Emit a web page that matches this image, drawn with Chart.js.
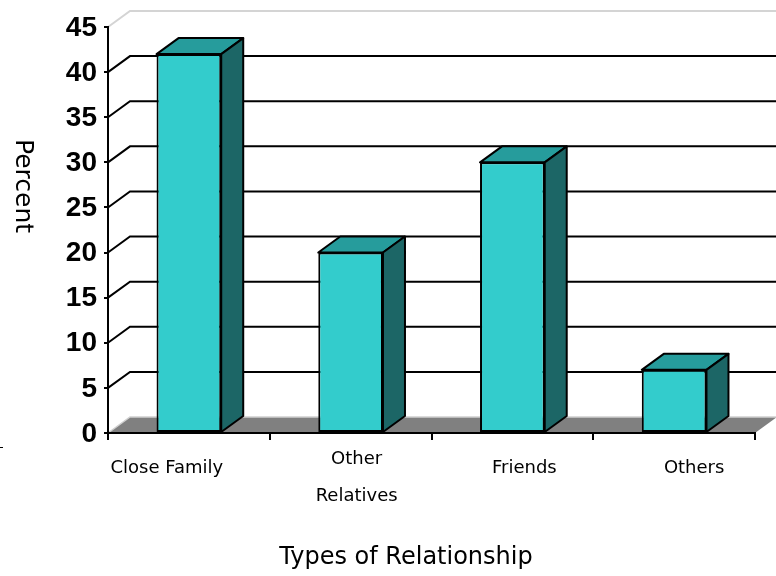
<!DOCTYPE html>
<html>
<head>
<meta charset="utf-8">
<style>
body { margin: 0; background: #fff; }
canvas { display: block; }
</style>
<script src="https://cdn.jsdelivr.net/npm/chart.js@4"></script>
</head>
<body>
<canvas id="bars" width="776" height="576"></canvas>
<script>
const categories = ['Close Family', ['Other', 'Relatives'], 'Friends', 'Others'];
const percent = [42, 20, 30, 7];
const percentTicks = [0, 5, 10, 15, 20, 25, 30, 35, 40, 45];

const labelFont = '18px "DejaVu Sans"';
const depthX = 22, depthY = 16;
// the original labels sit off-centre, one shift per category
const labelShiftX = [-22, 6, 12, 20];
const labelY = [468, 459, 468, 468];
const labelLineGap = 37;

function poly(ctx, pts, fill, stroke, width) {
    ctx.beginPath();
    pts.forEach((p, i) => i ? ctx.lineTo(p[0], p[1]) : ctx.moveTo(p[0], p[1]));
    ctx.closePath();
    if (fill) { ctx.fillStyle = fill; ctx.fill(); }
    if (stroke) { ctx.strokeStyle = stroke; ctx.lineWidth = width; ctx.lineJoin = 'round'; ctx.stroke(); }
}

const wallAndFloor = {
    id: 'wallAndFloor',
    beforeDraw(chart) {
        const { ctx, chartArea: a, scales: { y } } = chart;
        ctx.save();
        const base = y.getPixelForValue(0);
        poly(ctx, [[a.left, base], [a.right, base], [a.right + depthX, base - depthY], [a.left + depthX, base - depthY]], '#808080');
        // lighter rim on the floor
        ctx.strokeStyle = '#d0d0d0';
        ctx.lineWidth = 1.5;
        ctx.beginPath();
        ctx.moveTo(a.left, base);
        ctx.lineTo(a.left + depthX, base - depthY);
        ctx.lineTo(a.right + depthX, base - depthY);
        ctx.stroke();
        percentTicks.forEach(t => {
            if (t === 0) return;
            const py = y.getPixelForValue(t);
            ctx.strokeStyle = t === 45 ? '#d4d4d4' : '#000';
            ctx.lineWidth = 2;
            ctx.beginPath();
            ctx.moveTo(a.left, py);
            ctx.lineTo(a.left + depthX, py - depthY);
            ctx.lineTo(a.right + depthX, py - depthY);
            ctx.stroke();
        });
        ctx.restore();
    }
};

const barSides = {
    id: 'barSides',
    afterDatasetsDraw(chart) {
        const { ctx } = chart;
        ctx.save();
        chart.getDatasetMeta(0).data.forEach(bar => {
            const l = bar.x - bar.width / 2, r = bar.x + bar.width / 2;
            const t = bar.y, b = bar.base;
            poly(ctx, [[l, t], [r, t], [r + depthX, t - depthY], [l + depthX, t - depthY]], '#269c9c', '#000', 2);
            poly(ctx, [[r, t], [r + depthX, t - depthY], [r + depthX, b - depthY], [r, b]], '#1c6666', '#000', 2);
        });
        ctx.restore();
    }
};

const axisText = {
    id: 'axisText',
    afterDraw(chart) {
        const { ctx, scales: { x } } = chart;
        ctx.save();
        ctx.fillStyle = '#000';
        ctx.textAlign = 'center';
        ctx.textBaseline = 'middle';
        ctx.font = labelFont;
        categories.forEach((c, i) => {
            const lines = Array.isArray(c) ? c : [c];
            lines.forEach((line, n) => {
                ctx.fillText(line, x.getPixelForValue(i) + labelShiftX[i], labelY[i] + n * labelLineGap);
            });
        });
        ctx.font = '24px "DejaVu Sans"';
        ctx.fillText('Types of Relationship', 406, 558);
        ctx.font = '25px "DejaVu Sans"';
        ctx.translate(22, 186);
        ctx.rotate(Math.PI / 2);
        ctx.fillText('Percent', 0, 0);
        ctx.restore();
        // stray dash at the left edge of the original
        ctx.fillStyle = '#000';
        ctx.fillRect(0, 447, 3, 1);
    }
};

new Chart(document.getElementById('bars').getContext('2d'), {
    type: 'bar',
    data: {
        labels: categories,
        datasets: [{
            data: percent,
            backgroundColor: '#33cccc',
            borderColor: '#000',
            borderWidth: 2,
            borderSkipped: false,
            barPercentage: 0.4,
            categoryPercentage: 1
        }]
    },
    options: {
        responsive: false,
        animation: false,
        devicePixelRatio: 1,
        layout: { padding: { top: 27, right: 21, left: 0, bottom: 0 } },
        plugins: { legend: { display: false }, tooltip: { enabled: false } },
        scales: {
            x: {
                afterFit(scale) { scale.height = 143; },
                grid: { drawOnChartArea: false, color: '#000', lineWidth: 2, tickLength: 7 },
                border: { color: '#000', width: 2 },
                ticks: { display: false }
            },
            y: {
                min: 0,
                max: 45,
                afterBuildTicks(scale) { scale.ticks = percentTicks.map(value => ({ value })); },
                afterFit(scale) { scale.width = 108; },
                grid: { drawOnChartArea: false, color: '#000', lineWidth: 2, tickLength: 4 },
                border: { color: '#000', width: 2 },
                ticks: {
                    color: '#000',
                    padding: 7,
                    labelOffset: 1,
                    font: { family: '"Liberation Sans"', size: 28, weight: 'bold' }
                }
            }
        }
    },
    plugins: [wallAndFloor, barSides, axisText]
});
</script>
</body>
</html>
